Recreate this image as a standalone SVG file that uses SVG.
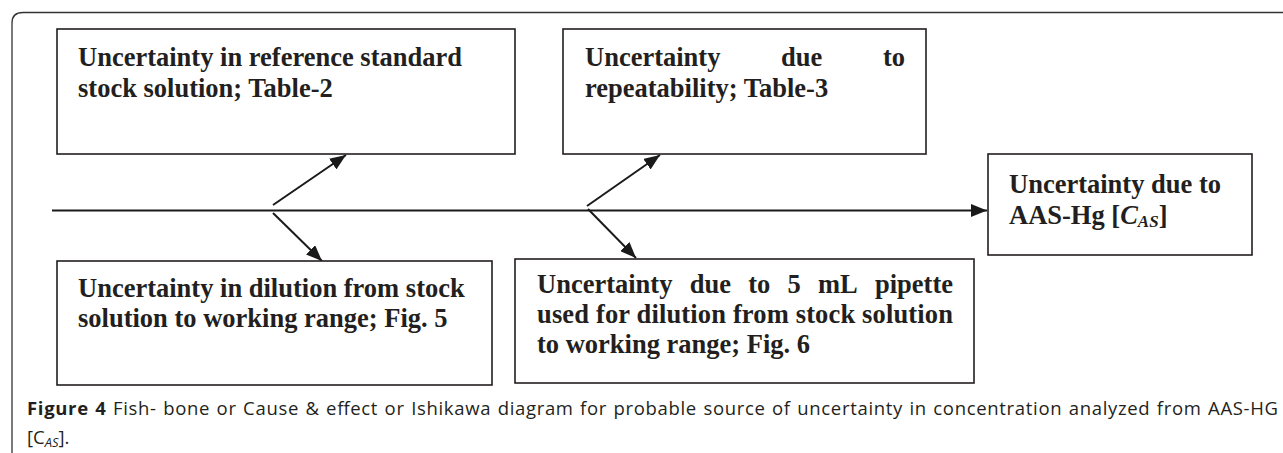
<svg xmlns="http://www.w3.org/2000/svg" width="1283" height="453" viewBox="0 0 1283 453">
<defs>
<style>
.box{fill:#fff;stroke:#231f20;stroke-width:1.6}
.t{font-family:"Liberation Serif","Times New Roman",serif;font-weight:bold;font-size:26.5px;fill:#231f20}
.c{font-family:"Open Sans","Noto Sans",sans-serif;font-size:18.5px;fill:#231f20}
.con{stroke:#1a1a1a;stroke-width:2;fill:none;marker-end:url(#ah)}
</style>
<marker id="ah" markerUnits="userSpaceOnUse" markerWidth="17" markerHeight="13" refX="16" refY="6.5" orient="auto">
<path d="M0,0 L16,6.5 L0,13 z" fill="#1a1a1a"/>
</marker>
</defs>
<rect width="1283" height="453" fill="#fff"/>
<path d="M12 453 L12 23 Q12 12.5 23 12.5 L1283 12.5" fill="none" stroke="#333" stroke-width="1.3"/>

<g id="connectors">
<line class="con" x1="52" y1="210.5" x2="987" y2="210.5"/>
<line class="con" x1="273" y1="205" x2="346" y2="155"/>
<line class="con" x1="273" y1="213" x2="322" y2="261"/>
<line class="con" x1="587" y1="206" x2="660" y2="155"/>
<line class="con" x1="588" y1="209" x2="636" y2="258"/>
</g>

<g id="n1">
<rect class="box" x="57" y="29" width="458" height="125"/>
<text class="t" x="78" y="66">Uncertainty in reference standard</text>
<text class="t" x="78" y="97">stock solution; Table-2</text>
</g>

<g id="n2">
<rect class="box" x="563" y="29" width="363" height="125"/>
<text class="t" y="66"><tspan x="585">Uncertainty</tspan><tspan x="781">due</tspan><tspan x="883">to</tspan></text>
<text class="t" x="585" y="97">repeatability; Table-3</text>
</g>

<g id="n3">
<rect class="box" x="988" y="154" width="264" height="101"/>
<text class="t" x="1009" y="193">Uncertainty due to</text>
<text class="t" x="1009" y="224">AAS-Hg [<tspan font-style="italic">C</tspan><tspan font-style="italic" font-size="17" dy="3">AS</tspan><tspan dy="-3">]</tspan></text>
</g>

<g id="n4">
<rect class="box" x="57" y="261" width="435" height="124"/>
<text class="t" x="78" y="297">Uncertainty in dilution from stock</text>
<text class="t" x="78" y="327">solution to working range; Fig. 5</text>
</g>

<g id="n5">
<rect class="box" x="515" y="259" width="459" height="124"/>
<text class="t" y="293"><tspan x="537">Uncertainty</tspan><tspan x="689.7">due</tspan><tspan x="748.2">to</tspan><tspan x="787.5">5</tspan><tspan x="818">mL</tspan><tspan x="875">pipette</tspan></text>
<text class="t" x="537" y="323" textLength="416" lengthAdjust="spacing">used for dilution from stock solution</text>
<text class="t" x="537" y="353">to working range; Fig. 6</text>
</g>

<g id="caption">
<text class="c" x="27" y="415" word-spacing="1" textLength="1251" lengthAdjust="spacing"><tspan font-weight="bold">Figure 4</tspan> Fish- bone or Cause &amp; effect or Ishikawa diagram for probable source of uncertainty in concentration analyzed from AAS-HG</text>
<text class="c" x="27" y="444">[C<tspan font-style="italic" font-size="13" dy="3">AS</tspan><tspan dy="-3">].</tspan></text>
</g>
</svg>
